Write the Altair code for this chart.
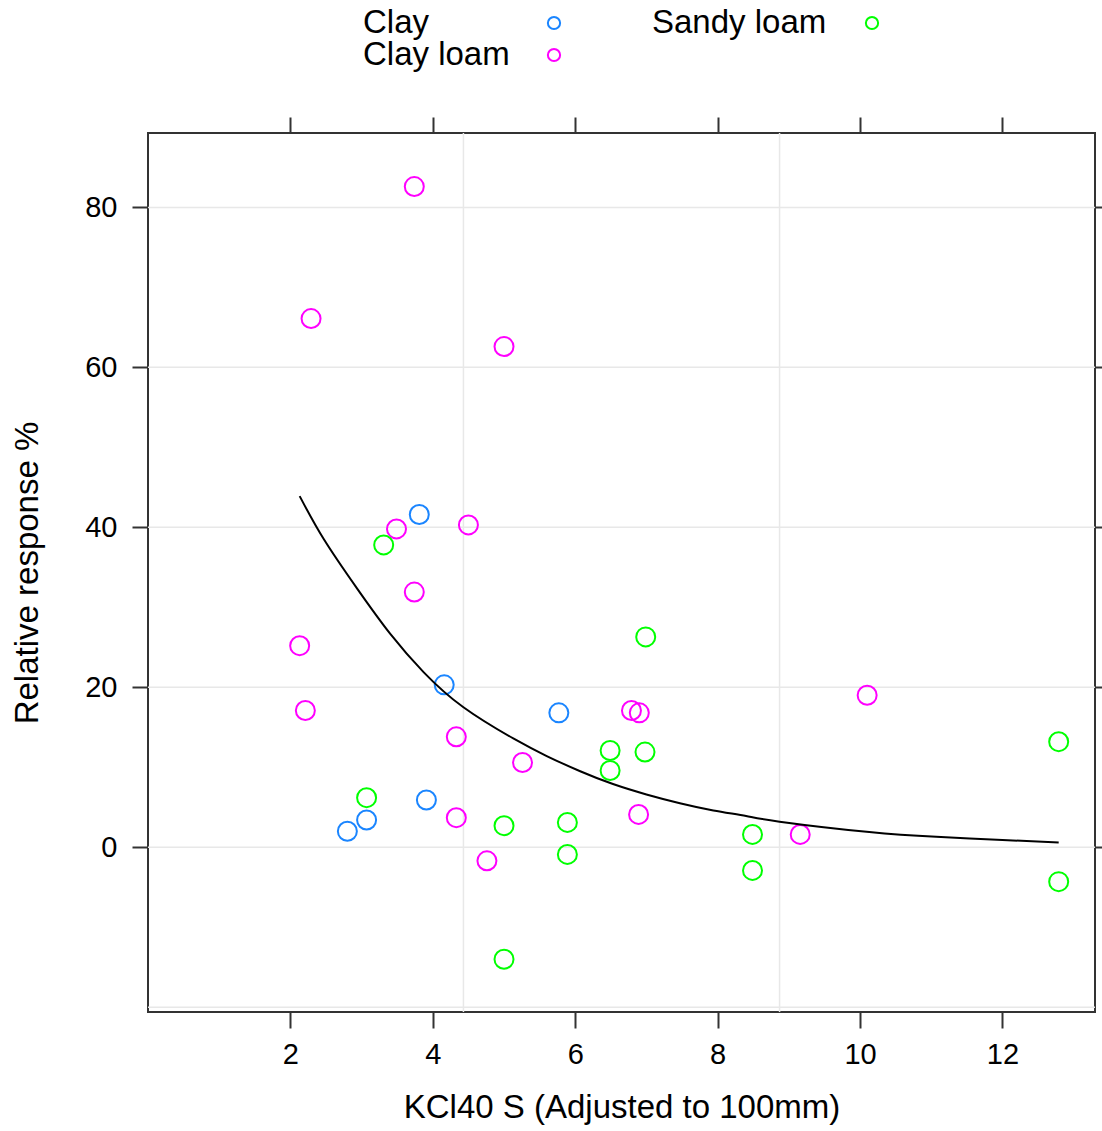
import altair as alt
import pandas as pd

# ---- data ----
groups = ["Clay", "Clay loam", "Sandy loam"]
colors = ["#1a85ff", "#ff00ff", "#00ff00"]

clay_x = [2.80, 3.07, 3.81, 3.91, 4.16, 5.77]
clay_y = [2.0, 3.4, 41.6, 5.9, 20.3, 16.8]

loam_x = [3.74, 2.29, 5.00, 3.49, 4.50, 3.74, 2.13, 2.21, 4.33, 5.26, 4.33, 4.76, 6.79, 6.90, 6.89, 10.10, 9.16]
loam_y = [82.6, 66.1, 62.6, 39.8, 40.3, 31.9, 25.2, 17.1, 13.8, 10.6, 3.7, -1.7, 17.1, 16.8, 4.1, 19.0, 1.6]

sandy_x = [3.31, 3.07, 5.00, 5.00, 5.89, 5.89, 6.49, 6.49, 6.99, 6.98, 8.49, 8.49, 12.79, 12.79]
sandy_y = [37.8, 6.2, 2.7, -14.0, 3.1, -0.9, 12.1, 9.6, 26.3, 11.9, 1.6, -2.9, 13.2, -4.3]

curve_x = [2.13, 2.47, 2.94, 3.40, 3.87, 4.43, 5.13, 5.60,
           6.07, 6.53, 7.00, 7.47, 7.94, 8.40, 8.87, 10.13, 11.07, 12.00, 12.79]
curve_y = [43.9, 38.5, 32.3, 26.7, 21.9, 17.5, 13.6, 11.4,
           9.5, 7.9, 6.6, 5.5, 4.6, 3.9, 3.2, 1.9, 1.3, 0.9, 0.6]

x_ticks = [2, 4, 6, 8, 10, 12]
y_ticks = [0, 20, 40, 60, 80]
hgrid_vals = [-20, 0, 20, 40, 60, 80]
vgrid_vals = [4.43, 8.87]

x_domain = [0, 13.3]
y_domain = [-20.6, 89.3]

# ---- build tables ----
rows = []
for g, xs_, ys_ in zip(groups, [clay_x, loam_x, sandy_x], [clay_y, loam_y, sandy_y]):
    rows += [{"soil": g, "x": a, "y": b} for a, b in zip(xs_, ys_)]
pts = pd.DataFrame(rows)
curve = pd.DataFrame({"x": curve_x, "y": curve_y})

W, H = 947, 879
FONT = "Liberation Sans"
AX = "#333333"
xs = alt.Scale(domain=x_domain, nice=False, zero=False)
ys = alt.Scale(domain=y_domain, nice=False, zero=False)

common_axis = dict(grid=False, domain=False, tickSize=16, tickWidth=2, tickColor=AX,
                   labelFont=FONT, labelFontSize=29, labelColor="black",
                   titleFont=FONT, titleFontSize=33, titleFontWeight="normal", titleColor="black")

hgrid = alt.Chart(pd.DataFrame({"y": hgrid_vals})).mark_rule(color="#e8e8e8", strokeWidth=1.5).encode(
    y=alt.Y("y:Q", scale=ys, axis=None))
vgrid = alt.Chart(pd.DataFrame({"x": vgrid_vals})).mark_rule(color="#e8e8e8", strokeWidth=1.5).encode(
    x=alt.X("x:Q", scale=xs, axis=None))

points = alt.Chart(pts).mark_point(shape="circle", filled=False, size=361, strokeWidth=2, opacity=1).encode(
    x=alt.X("x:Q", scale=xs, axis=alt.Axis(
        orient="bottom", values=x_ticks, title="KCl40 S (Adjusted to 100mm)",
        labelPadding=26, labelBaseline="middle", labelFlush=False,
        titleX=W / 2, titleY=95, titleBaseline="middle", titleAlign="center", **common_axis)),
    y=alt.Y("y:Q", scale=ys, axis=alt.Axis(
        orient="left", values=y_ticks, title="Relative response %",
        labelPadding=15, labelFlush=False,
        titleX=-121, titleY=H / 2, titleAngle=270, titleBaseline="middle", titleAlign="center", **common_axis)),
    color=alt.Color("soil:N", scale=alt.Scale(domain=groups, range=colors), legend=None),
)

line = alt.Chart(curve).mark_line(color="black", strokeWidth=2, interpolate="natural").encode(
    x=alt.X("x:Q", scale=xs, axis=alt.Axis(orient="top", values=x_ticks, labels=False, title=None,
                                             grid=False, domain=False, tickSize=16, tickWidth=2, tickColor=AX)),
    y=alt.Y("y:Q", scale=ys, axis=alt.Axis(orient="right", values=y_ticks, labels=False, title=None,
                                             grid=False, domain=False, tickSize=16, tickWidth=2, tickColor=AX)),
)

# ---- key above the panel (lattice style: label then symbol) ----
key_layers = []
key_pos = [(215, -110, 406), (215, -78, 406), (504, -110, 724)]
for g, c, (tx, ty, px) in zip(groups, colors, key_pos):
    key_layers.append(
        alt.Chart(alt.Data(values=[{"k": g}])).mark_text(
            text=g, align="left", baseline="middle", font=FONT, fontSize=33, color="black"
        ).encode(x=alt.value(tx), y=alt.value(ty)))
    key_layers.append(
        alt.Chart(alt.Data(values=[{"k": g}])).mark_point(
            shape="circle", filled=False, size=150, strokeWidth=2, color=c, opacity=1
        ).encode(x=alt.value(px), y=alt.value(ty)))

chart = alt.layer(hgrid, vgrid, points, line, *key_layers).resolve_axis(
    x="independent", y="independent"
).properties(
    width=W, height=H,
    autosize=alt.AutoSizeParams(type="none"),
    padding={"left": 148, "top": 133, "right": 7, "bottom": 119},
    background="white",
).configure_view(stroke=AX, strokeWidth=2)

chart.save("out.html", embed_options={"renderer": "svg", "actions": False})
